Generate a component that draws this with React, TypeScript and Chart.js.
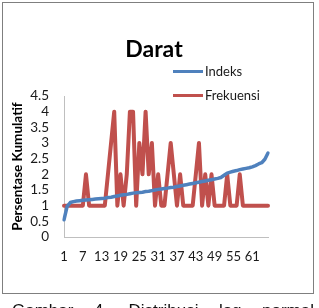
import React, { useEffect, useRef } from "react";
import { Chart, registerables } from "chart.js";

Chart.register(...registerables);

const chartTitle = "Darat";
const yAxisTitle = "Persentase Kumulatif";
const caption = "Gambar 4. Distribusi log normal";
const seriesNames = ["Indeks", "Frekuensi"];
const seriesColors = ["#4F81BD", "#C0504D"];

const categories = [
  "1", "2", "3", "4", "5", "6", "7", "8", "9", "10",
  "11", "12", "13", "14", "15", "16", "17", "18", "19", "20",
  "21", "22", "23", "24", "25", "26", "27", "28", "29", "30",
  "31", "32", "33", "34", "35", "36", "37", "38", "39", "40",
  "41", "42", "43", "44", "45", "46", "47", "48", "49", "50",
  "51", "52", "53", "54", "55", "56", "57", "58", "59", "60",
  "61", "62", "63", "64", "65", "66",
];

const tickLabels = ["1", "7", "13", "19", "25", "31", "37", "43", "49", "55", "61"];

const indeks = [
  0.55, 0.98, 1.1, 1.13, 1.15, 1.16, 1.17, 1.18, 1.19, 1.2,
  1.21, 1.22, 1.23, 1.24, 1.26, 1.27, 1.29, 1.31, 1.33, 1.35,
  1.36, 1.38, 1.4, 1.41, 1.42, 1.43, 1.45, 1.46, 1.48, 1.5,
  1.52, 1.53, 1.55, 1.56, 1.58, 1.59, 1.61, 1.63, 1.65, 1.67,
  1.69, 1.71, 1.73, 1.75, 1.77, 1.79, 1.81, 1.83, 1.85, 1.87,
  1.9, 1.97, 2.04, 2.07, 2.1, 2.12, 2.15, 2.17, 2.19, 2.21,
  2.24, 2.28, 2.33, 2.37, 2.48, 2.68,
];

const frekuensi = [
  1, 1, 1, 1, 1, 1, 1, 2, 1, 1,
  1, 1, 1, 1, 2, 3, 4, 1, 2, 1,
  2, 4, 4, 1, 3, 2, 4, 2, 3, 1,
  2, 1, 1, 2, 3, 2, 1, 2, 1, 1,
  1, 1, 2, 3, 1, 2, 1, 2, 1, 1,
  1, 1, 2, 1, 1, 1, 2, 1, 1, 1,
  1, 1, 1, 1, 1, 1,
];

const FONT = "Lato";

const decorPlugin = {
  id: "decor",
  afterDraw(chart: any) {
    const ctx = chart.ctx;
    ctx.save();
    ctx.fillStyle = "#000";
    ctx.font = `bold 23px ${FONT}`;
    ctx.textAlign = "center";
    ctx.textBaseline = "alphabetic";
    ctx.fillText(chartTitle, 154, 57);
    const rows = [71, 95];
    chart.data.datasets.forEach((ds: any, i: number) => {
      const y = rows[i];
      ctx.strokeStyle = ds.borderColor;
      ctx.lineWidth = 3;
      ctx.lineCap = "butt";
      ctx.beginPath();
      ctx.moveTo(173, y + 0.5);
      ctx.lineTo(203, y + 0.5);
      ctx.stroke();
      ctx.fillStyle = "#1a1a1a";
      ctx.font = `13px ${FONT}`;
      ctx.textAlign = "left";
      ctx.textBaseline = "middle";
      ctx.fillText(ds.label, 205, y + 1);
    });
    ctx.restore();
  },
};

export default function App() {
  const canvasRef = useRef<HTMLCanvasElement | null>(null);

  useEffect(() => {
    const canvas = canvasRef.current;
    if (!canvas) return;
    const chart = new Chart(canvas, {
      type: "line",
      data: {
        labels: categories,
        datasets: [
          {
            label: seriesNames[0],
            data: indeks,
            borderColor: seriesColors[0],
            backgroundColor: seriesColors[0],
            borderWidth: 3.5,
            pointRadius: 0,
            tension: 0,
            borderJoinStyle: "round",
            borderCapStyle: "round",
          },
          {
            label: seriesNames[1],
            data: frekuensi,
            borderColor: seriesColors[1],
            backgroundColor: seriesColors[1],
            borderWidth: 4,
            pointRadius: 0,
            tension: 0,
            borderJoinStyle: "round",
            borderCapStyle: "round",
          },
        ],
      },
      options: {
        responsive: false,
        animation: false,
        devicePixelRatio: 1,
        layout: { padding: { left: 0, right: 51, top: 96, bottom: 0 } },
        plugins: {
          legend: { display: false },
          title: { display: false },
          tooltip: { enabled: false },
        },
        scales: {
          x: {
            type: "category",
            offset: false,
            grid: { display: false, drawTicks: false },
            border: { display: true, color: "#bfbfbf", width: 1 },
            ticks: {
              autoSkip: false,
              maxRotation: 0,
              minRotation: 0,
              padding: 12,
              color: "#1a1a1a",
              font: { family: FONT, size: 13 },
              callback: (_v: any, idx: number) =>
                tickLabels.includes(categories[idx]) ? categories[idx] : "",
            },
            afterFit: (s: any) => {
              s.height = 71;
            },
          },
          y: {
            min: 0,
            max: 4.5,
            grid: { display: false, drawTicks: false },
            border: { display: true, color: "#bfbfbf", width: 1 },
            ticks: {
              stepSize: 0.5,
              autoSkip: false,
              padding: 15,
              color: "#1a1a1a",
              font: { family: FONT, size: 13.5 },
              callback: (v: any) => String(v),
            },
            title: {
              display: true,
              text: yAxisTitle,
              color: "#000",
              font: { family: FONT, size: 13.5, weight: "bold" },
              padding: { top: 10, bottom: 0 },
            },
            afterFit: (s: any) => {
              s.width = 64;
            },
          },
        },
      },
      plugins: [decorPlugin],
    } as any);
    return () => chart.destroy();
  }, []);

  return (
    <div
      style={{
        position: "fixed",
        left: 0,
        top: 0,
        width: 319,
        height: 308,
        overflow: "hidden",
        background: "#fff",
      }}
    >
      <canvas
        ref={canvasRef}
        width={319}
        height={308}
        style={{ position: "absolute", left: 0, top: 0, width: 319, height: 308 }}
      />
      <div
        style={{
          position: "absolute",
          left: 2,
          top: 2,
          width: 312,
          height: 292,
          border: "1px solid #7f7f7f",
          boxSizing: "border-box",
          pointerEvents: "none",
        }}
      />
      <div
        style={{
          position: "absolute",
          left: 12,
          top: 301,
          width: 302,
          fontFamily: "'Liberation Sans', Arial, sans-serif",
          fontSize: 17,
          color: "#111",
          textAlign: "justify",
          textAlignLast: "justify",
        } as any}
      >
        {caption}
      </div>
    </div>
  );
}
